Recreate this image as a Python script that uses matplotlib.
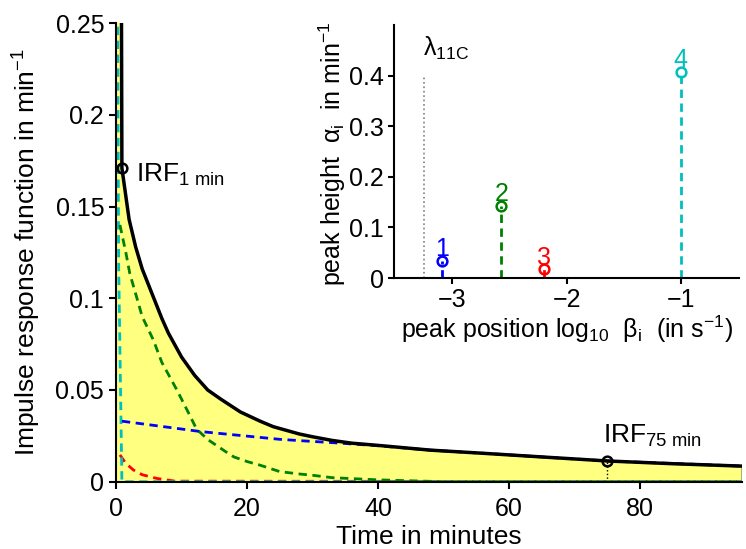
import numpy as np
import matplotlib
matplotlib.use('Agg')
import matplotlib.pyplot as plt
from matplotlib.ticker import FormatStrFormatter

plt.rcParams['font.family'] = ['Liberation Sans', 'DejaVu Sans']
plt.rcParams['mathtext.fontset'] = 'custom'
plt.rcParams['mathtext.rm'] = 'Liberation Sans'
plt.rcParams['mathtext.it'] = 'Liberation Sans:italic'
plt.rcParams['mathtext.default'] = 'regular'
plt.rcParams['font.size'] = 18

## IRF (sum of components), time in minutes
t_irf = [0.8, 0.9, 2, 3, 4, 5, 6, 7, 8, 10, 12, 14, 16, 19, 22, 24, 28, 30, 33, 36,
         40, 48, 56, 65, 75, 85, 95.5]
irf = [0.30, 0.171, 0.143, 0.128, 0.116, 0.107, 0.098, 0.089, 0.081, 0.068, 0.058,
       0.050, 0.045, 0.038, 0.033, 0.030, 0.026, 0.0245, 0.0225, 0.021,
       0.0198, 0.0172, 0.0155, 0.0135, 0.0113, 0.0098, 0.0085]

## single components (dashed)
t_c1 = [0.9, 13, 25, 28, 33, 40, 48, 56, 65, 75, 95.5]
c1 = [0.033, 0.0273, 0.0231, 0.0224, 0.0213, 0.0196, 0.0172, 0.0155, 0.0135, 0.0113, 0.0085]
t_c2 = [0.6, 1.5, 2.1, 3.2, 4, 5.7, 7, 9.3, 11, 12.3, 14, 16.9, 18, 20, 22, 25, 28, 30,
        33, 40, 50, 95.5]
c2 = [0.14, 0.125, 0.1136, 0.100, 0.090, 0.0773, 0.065, 0.050, 0.038, 0.0287, 0.023,
      0.016, 0.0135, 0.011, 0.009, 0.0055, 0.0042, 0.0035, 0.0022, 0.001, 0.0, 0.0]
t_c3 = [0.6, 1.5, 2.65, 4, 6.2, 9, 95.5]
c3 = [0.0146, 0.0100, 0.0064, 0.0038, 0.0018, 0.0003, 0.0]
t_c4 = [0.2, 0.4, 0.9, 95.5]
c4 = [0.30, 0.12, 0.0, 0.0]

## IRF read-outs
irf_times = [0.9, 75]
irf_vals = [0.171, 0.0113]

## inset: peak positions / heights
peak_pos = [-3.09, -2.57, -2.20, -1.00]
peak_height = [0.034, 0.143, 0.017, 0.408]
peak_names = ['1', '2', '3', '4']
peak_colors = ['#0000ff', '#008000', '#ff0000', '#00bfbf']
lambda_11c = -3.247

fig = plt.figure(figsize=(7.46, 5.49), dpi=100)
ax = fig.add_axes([0.1555, 0.1226, 0.8385, 0.8352])

ax.fill_between([0] + t_irf, [irf[0]] + irf, 0, color='#ffff80', lw=0.8,
                edgecolor='#b0b070', zorder=1)
ax.plot(t_c3, c3, '--', color=peak_colors[2], lw=2, dashes=(3, 2), zorder=2)
ax.plot(t_c4, c4, '--', color=peak_colors[3], lw=2, dashes=(3, 2), zorder=2)
ax.plot(t_c2, c2, '--', color=peak_colors[1], lw=2, dashes=(3, 2), zorder=2)
ax.plot(t_c1, c1, '--', color=peak_colors[0], lw=2, dashes=(3, 2), zorder=2)
ax.plot(t_irf, irf, '-', color='k', lw=2.5, zorder=3)
ax.plot([irf_times[1], irf_times[1]], [0, irf_vals[1]], ':', color='k', lw=1, zorder=3)
ax.plot(irf_times, irf_vals, 'o', mfc='none', mec='k', ms=7, mew=1.8, zorder=4)
ax.text(3.05, 0.1634, r'IRF$_{\mathrm{1\ min}}$', fontsize=19, va='baseline', ha='left')
ax.text(74.4, 0.021, r'IRF$_{\mathrm{75\ min}}$', fontsize=19, va='baseline', ha='left')

ax.set_xlim(0, 95.5)
ax.set_ylim(0, 0.25)
ax.set_xticks([0, 20, 40, 60, 80])
ax.set_yticks([0, 0.05, 0.1, 0.15, 0.2, 0.25])
ax.yaxis.set_major_formatter(FormatStrFormatter('%g'))
for s in ['top', 'right']:
    ax.spines[s].set_visible(False)
for s in ['left', 'bottom']:
    ax.spines[s].set_linewidth(1.5)
ax.tick_params(direction='out', length=5, width=1.5, labelsize=18)
ax.tick_params(axis='x', pad=6)
ax.set_xlabel('Time in minutes', fontsize=19, labelpad=3)
ax.set_ylabel(r'Impulse response function in min$^{-1}$', fontsize=19)
ax.yaxis.set_label_coords(-0.116, 0.5)

## inset
ins = fig.add_axes([0.5282, 0.4936, 0.4625, 0.4608])
ins.patch.set_alpha(0)
ins.plot([lambda_11c, lambda_11c], [0, 0.4], ':', color='gray', lw=1.2)
ins.text(lambda_11c - 0.01, 0.44, r'$\lambda_{\mathrm{11C}}$', fontsize=18,
         ha='left', va='baseline')
for x, h, nm, c in zip(peak_pos, peak_height, peak_names, peak_colors):
    ins.plot([x, x], [0, h], '--', color=c, lw=2, dashes=(3, 2))
    ins.plot([x], [h], 'o', mfc='none', mec=c, ms=7, mew=1.8)
    ins.text(x, h + 0.009, nm, color=c, fontsize=18, ha='center', va='baseline')
ins.set_xlim(-3.51, -0.49)
ins.set_ylim(0, 0.5)
ins.set_xticks([-3, -2, -1])
ins.set_yticks([0, 0.1, 0.2, 0.3, 0.4])
ins.yaxis.set_major_formatter(FormatStrFormatter('%g'))
for s in ['top', 'right']:
    ins.spines[s].set_visible(False)
for s in ['left', 'bottom']:
    ins.spines[s].set_linewidth(1.5)
ins.tick_params(direction='out', length=4, width=1.5, labelsize=18)
ins.set_xlabel(r'peak position log$_{10}$  β$_i$  (in s$^{-1}$)', fontsize=18, labelpad=1)
ins.set_ylabel(r'peak height  α$_i$  in min$^{-1}$', fontsize=18)
ins.yaxis.set_label_coords(-0.134, 0.49)

fig.savefig('out.png', dpi=100)
